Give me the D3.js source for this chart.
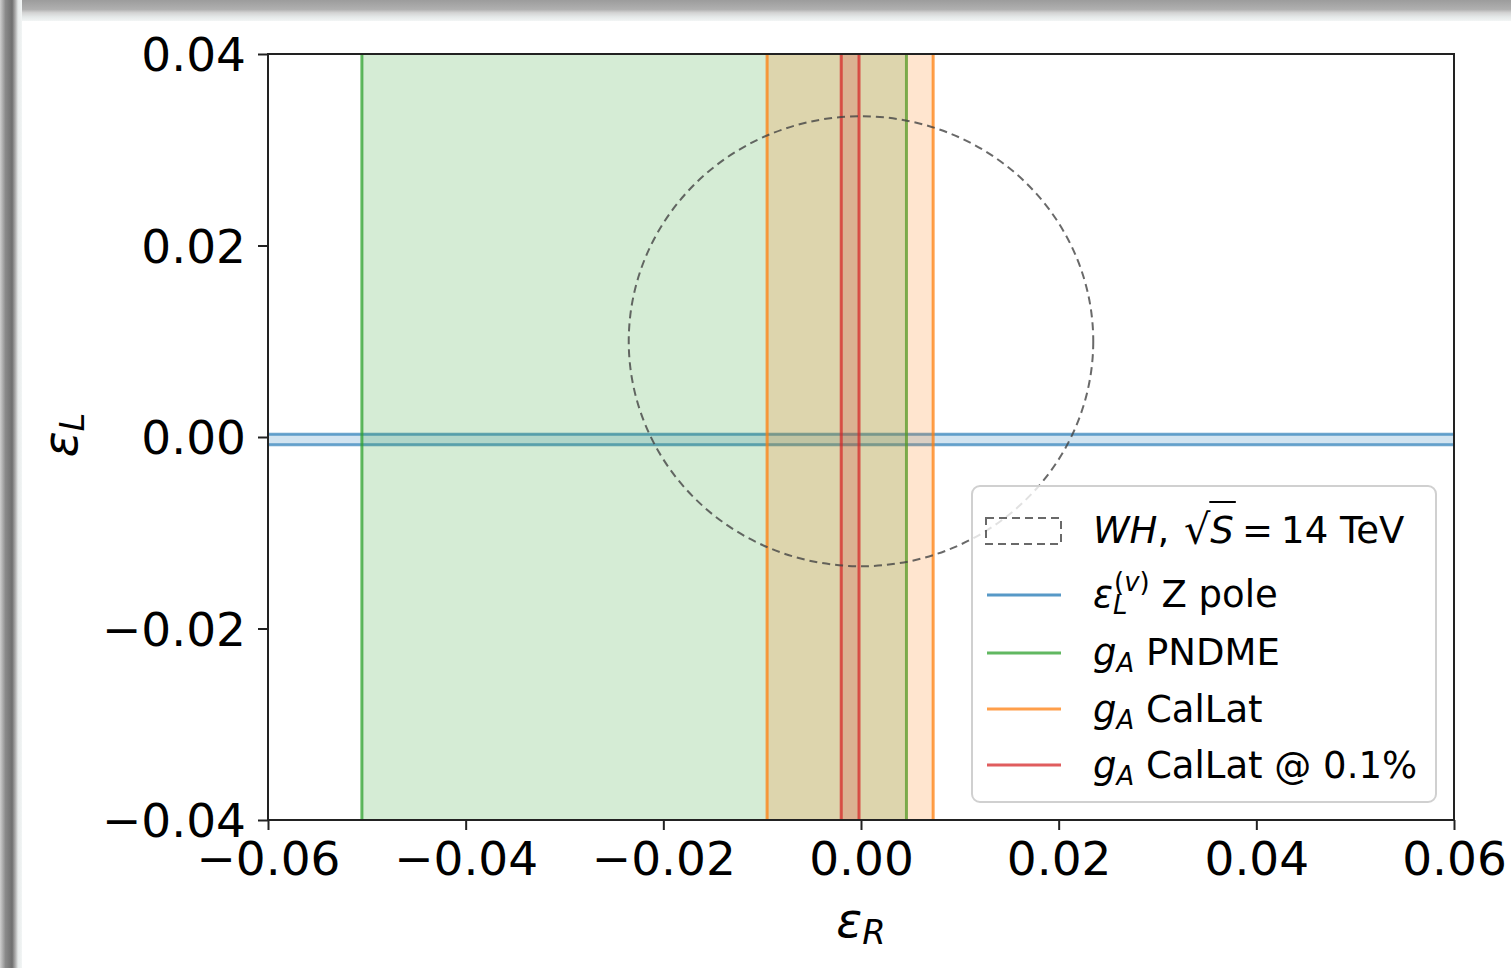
<!DOCTYPE html>
<html>
<head>
<meta charset="utf-8">
<script src="https://cdn.jsdelivr.net/npm/d3@7"></script>
<style>
  html, body { margin: 0; padding: 0; background: #ffffff; }
  svg { display: block; }
  text { font-family: "DejaVu Sans", sans-serif; fill: #000; white-space: pre; }
</style>
</head>
<body>
<svg id="chart" width="1511" height="968"></svg>
<script>
// ---- data ----
const xTicks = [-0.06, -0.04, -0.02, 0.00, 0.02, 0.04, 0.06];
const yTicks = [-0.04, -0.02, 0.00, 0.02, 0.04];
const xDomain = [-0.06, 0.06];
const yDomain = [-0.04, 0.04];

// Z-pole constraint on eps_L (horizontal band)
const zPoleBand = [-0.0008, 0.0003];

// g_A constraints on eps_R (vertical bands)
const gaNames = ["PNDME", "CalLat", "CalLat @ 0.1%"];
const gaLow   = [-0.0505, -0.0095, -0.0020];
const gaHigh  = [ 0.0046,  0.0073, -0.0002];
const gaColors = ["#2ca02c", "#ff7f0e", "#d62728"];

// WH projection at sqrt(S) = 14 TeV (circle)
const whCenter = [0.0, 0.0100];
const whRadius = 0.0235;

// ---- layout ----
const svg = d3.select("#chart");
const W = 1511, H = 968;
const plot = { left: 268, top: 54, right: 1454, bottom: 820 };

// window frame
const defs = svg.append("defs");
const gTop = defs.append("linearGradient").attr("id", "frameTop")
  .attr("x1", 0).attr("y1", 0).attr("x2", 0).attr("y2", 1);
[[0, "#9c9c9c"], [0.45, "#b0b0b0"], [0.6, "#d2d2d2"], [0.8, "#e4e8e8"], [1, "#f2f5f5"]]
  .forEach(([o, c]) => gTop.append("stop").attr("offset", o).attr("stop-color", c));
const gLeft = defs.append("linearGradient").attr("id", "frameLeft")
  .attr("x1", 0).attr("y1", 0).attr("x2", 1).attr("y2", 0);
[[0, "#cfcfcf"], [0.25, "#8a8a8a"], [0.55, "#6f6f6f"], [0.72, "#b8b8b8"], [0.82, "#e6eaea"], [1, "#f2f5f5"]]
  .forEach(([o, c]) => gLeft.append("stop").attr("offset", o).attr("stop-color", c));
svg.append("rect").attr("x", 0).attr("y", 0).attr("width", W).attr("height", 21).attr("fill", "url(#frameTop)");
svg.append("rect").attr("x", 0).attr("y", 0).attr("width", 22).attr("height", H).attr("fill", "url(#frameLeft)");

const x = d3.scaleLinear().domain(xDomain).range([plot.left, plot.right]);
const y = d3.scaleLinear().domain(yDomain).range([plot.bottom, plot.top]);

defs.append("clipPath").attr("id", "plotClip").append("rect")
  .attr("x", plot.left).attr("y", plot.top)
  .attr("width", plot.right - plot.left).attr("height", plot.bottom - plot.top);

const area = svg.append("g").attr("clip-path", "url(#plotClip)");

const fillAlpha = 0.2, edgeAlpha = 0.75, edgeWidth = 3;

// Z pole band
area.append("rect")
  .attr("x", plot.left).attr("width", plot.right - plot.left)
  .attr("y", y(zPoleBand[1])).attr("height", y(zPoleBand[0]) - y(zPoleBand[1]))
  .attr("fill", "#1f77b4").attr("fill-opacity", fillAlpha);
area.selectAll("line.zpole").data(zPoleBand).join("line")
  .attr("class", "zpole")
  .attr("x1", plot.left).attr("x2", plot.right)
  .attr("y1", d => y(d)).attr("y2", d => y(d))
  .attr("stroke", "#1f77b4").attr("stroke-opacity", 0.65).attr("stroke-width", edgeWidth);

// g_A bands
gaNames.forEach((name, i) => {
  const g = area.append("g");
  g.append("rect")
    .attr("x", x(gaLow[i])).attr("width", x(gaHigh[i]) - x(gaLow[i]))
    .attr("y", plot.top).attr("height", plot.bottom - plot.top)
    .attr("fill", gaColors[i]).attr("fill-opacity", fillAlpha);
  g.selectAll("line").data([gaLow[i], gaHigh[i]]).join("line")
    .attr("x1", d => x(d)).attr("x2", d => x(d))
    .attr("y1", plot.top).attr("y2", plot.bottom)
    .attr("stroke", gaColors[i]).attr("stroke-opacity", edgeAlpha).attr("stroke-width", edgeWidth);
});

// WH circle
area.append("ellipse")
  .attr("cx", x(whCenter[0])).attr("cy", y(whCenter[1]))
  .attr("rx", x(whCenter[0] + whRadius) - x(whCenter[0]))
  .attr("ry", y(whCenter[1]) - y(whCenter[1] + whRadius))
  .attr("fill", "none").attr("stroke", "#444").attr("stroke-opacity", 0.8)
  .attr("stroke-width", 2).attr("stroke-dasharray", "8,5");

// axes
const tickFmt = d => d3.format(".2f")(d).replace("-", "\u2212");
const xAxis = svg.append("g").attr("transform", `translate(0,${plot.bottom})`)
  .call(d3.axisBottom(x).tickValues(xTicks).tickFormat(tickFmt).tickSize(10).tickPadding(10));
const yAxis = svg.append("g").attr("transform", `translate(${plot.left},0)`)
  .call(d3.axisLeft(y).tickValues(yTicks).tickFormat(tickFmt).tickSize(10).tickPadding(12));
[xAxis, yAxis].forEach(a => {
  a.select(".domain").remove();
  a.selectAll(".tick line").attr("stroke", "#222").attr("stroke-width", 2);
  a.selectAll(".tick text").attr("font-size", 47).attr("font-family", "DejaVu Sans").attr("fill", "#000");
});
xAxis.selectAll(".tick text").attr("dy", "0.74em");
yAxis.selectAll(".tick text").attr("dy", "0.36em");

// frame of the plot
svg.append("rect")
  .attr("x", plot.left).attr("y", plot.top)
  .attr("width", plot.right - plot.left).attr("height", plot.bottom - plot.top)
  .attr("fill", "none").attr("stroke", "#222").attr("stroke-width", 2);

// helper: lay out a run of text pieces left to right
function mathRun(parent, x0, y0, size, parts) {
  let cx = x0;
  const placed = [];
  parts.forEach(p => {
    const fs = size * (p.scale || 1);
    const t = parent.append("text")
      .attr("x", cx).attr("y", y0 + (p.dy || 0) * size)
      .attr("font-size", fs)
      .attr("font-style", p.it ? "italic" : "normal")
      .text(p.t);
    const w = t.node().getComputedTextLength();
    placed.push({ node: t, x: cx, w: w, fs: fs, p: p });
    cx += w + (p.gap || 0) * size;
  });
  return placed;
}

// axis labels
const xl = svg.append("g");
const xParts = mathRun(xl, 0, 937, 48, [{ t: "\u03b5", it: true }, { t: "R", it: true, scale: 0.7, dy: 0.14 }]);
const xw = xParts.reduce((s, p) => s + p.w, 0);
xl.attr("transform", `translate(${x(0) - xw / 2},0)`);

const yl = svg.append("g");
const yParts = mathRun(yl, 0, 0, 48, [{ t: "\u03b5", it: true }, { t: "L", it: true, scale: 0.7, dy: 0.14 }]);
const yw = yParts.reduce((s, p) => s + p.w, 0);
yl.attr("transform", `translate(77,${y(0) + yw / 2 - 2}) rotate(-90)`);

// legend
const leg = svg.append("g");
leg.append("rect").attr("x", 972).attr("y", 486).attr("width", 464).attr("height", 316)
  .attr("rx", 8).attr("ry", 8)
  .attr("fill", "#fff").attr("fill-opacity", 0.8)
  .attr("stroke", "#d0d0d0").attr("stroke-width", 2);

const hx0 = 987, hx1 = 1061, tx = 1093, fs = 37;

// row 1: WH circle
leg.append("rect").attr("x", 986).attr("y", 518).attr("width", 75).attr("height", 26)
  .attr("fill", "none").attr("stroke", "#444").attr("stroke-opacity", 0.8)
  .attr("stroke-width", 2).attr("stroke-dasharray", "8,5");
const r1 = mathRun(leg, tx, 543, fs, [
  { t: "WH", it: true }, { t: ", ", gap: 0.08 }, { t: "\u221a", scale: 1.12, dy: 0.02 }, { t: "S", it: true, gap: 0.22 },
  { t: "=", gap: 0.22 }, { t: "14 TeV" }
]);
const sq = r1[2], sS = r1[3];
leg.append("line")
  .attr("x1", sq.x + sq.w - 1).attr("x2", sS.x + sS.w + 2)
  .attr("y1", 502).attr("y2", 502)
  .attr("stroke", "#000").attr("stroke-width", 2);

// rows 2-5: bands
const rowY = [595, 653, 709, 765];
const legColors = ["#1f77b4"].concat(gaColors);
rowY.forEach((ry, i) => {
  leg.append("line").attr("x1", hx0).attr("x2", hx1).attr("y1", ry).attr("y2", ry)
    .attr("stroke", legColors[i]).attr("stroke-opacity", edgeAlpha).attr("stroke-width", 3);
});
mathRun(leg, tx, 607, fs, [
  { t: "\u03b5", it: true },
  { t: "L", it: true, scale: 0.7, dy: 0.2, gap: -0.36 },
  { t: "(", scale: 0.7, dy: -0.42 }, { t: "v", it: true, scale: 0.7, dy: -0.42 }, { t: ")", scale: 0.7, dy: -0.42 },
  { t: " Z pole" }
]);
gaNames.forEach((name, i) => {
  mathRun(leg, tx, [665, 722, 778][i], fs, [
    { t: "g", it: true }, { t: "A", it: true, scale: 0.7, dy: 0.2 }, { t: " " + name }
  ]);
});
</script>
</body>
</html>
